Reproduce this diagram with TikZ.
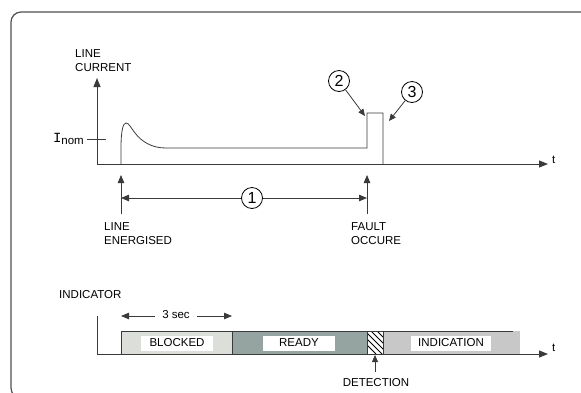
\documentclass[tikz,border=0pt]{standalone}
\usepackage{fontspec}
\setmainfont{Liberation Sans}
\newfontfamily\inomfont{Liberation Mono}
\usetikzlibrary{arrows.meta, positioning, calc}
\definecolor{fdframe}{HTML}{505050}
\definecolor{fdline}{HTML}{3A3A3A}
\definecolor{fdblock}{HTML}{DCDED9}
\definecolor{fdready}{HTML}{95A4A1}
\definecolor{fdind}{HTML}{C8C8C8}

\begin{document}
\begin{tikzpicture}[x=1pt, y=-1pt, font=\fontsize{11.5}{14}\selectfont,
      axis/.style={draw=fdline, line width=0.9pt, -{Triangle[length=9pt, width=7pt]}},
      ptr/.style={draw=fdline, line width=0.8pt, -{Triangle[length=8pt, width=6.5pt]}},
      lbl/.style={inner sep=0pt, align=left, text=black},
      num/.style={circle, draw=black, line width=0.8pt, minimum size=21pt, inner sep=0pt, fill=white,
                  font=\fontsize{16}{16}\selectfont},
      bartxt/.style={fill=white, inner sep=0pt, minimum height=15pt, font=\fontsize{11.5}{12}\selectfont}]
      \useasboundingbox (0,0) rectangle (581,392);
      \begin{scope}
        \clip (0,0) rectangle (581,392);
        \draw[fdframe, line width=1.2pt, rounded corners=10pt] (11,12) rectangle (620,398);
      \end{scope}

      % line current
      \coordinate (o1) at (97,164);
      \coordinate (ytop) at (97,78);
      \coordinate (x1end) at (548,164);
      \draw[axis] (o1) -- (ytop);
      \draw[axis] (o1) -- (x1end);
      \node[lbl, anchor=west] (t1) at (552,160) {t};
      \node[lbl, anchor=north west] (curlbl) at (75,49) {LINE\\CURRENT};
      \coordinate (tickl) at (87,139);
      \coordinate (tickr) at (106,139);
      \draw[fdline, line width=0.8pt] (tickl) -- (tickr);
      \node[lbl, anchor=east] (inom) at (84,139) {{\inomfont\fontsize{14}{14}\selectfont I}\raisebox{-2.5pt}{nom}};

      \coordinate (ener) at (121,164);
      \coordinate (fault) at (367,164);
      \draw[fdline, line width=0.8pt] (ener) -- (121,148)
        .. controls (121,131) and (123,123) .. (126,123)
        .. controls (129,123) and (131,128) .. (135,133)
        .. controls (142,142) and (152,148) .. (166,148)
        -- (367,148) -- (367,113) -- (383,113) -- (383,164);

      \node[num] (n2) at (339,81) {2};
      \node[num] (n3) at (412,92) {3};
      \coordinate (p2) at (365,116);
      \coordinate (p3) at (389,121);
      \draw[ptr, -{Triangle[length=7pt, width=6pt]}] (n2) -- (p2);
      \draw[ptr, -{Triangle[length=7pt, width=6pt]}] (n3) -- (p3);

      % events
      \coordinate (eb) at (121,214);
      \coordinate (et) at (121,175);
      \coordinate (fb) at (367,214);
      \coordinate (ft) at (367,175);
      \draw[ptr] (eb) -- (et);
      \draw[ptr] (fb) -- (ft);
      \node[num] (n1) at (252,198) {1};
      \coordinate (dl) at (121,198);
      \coordinate (dr) at (367,198);
      \draw[ptr] (n1) -- (dl);
      \draw[ptr] (n1) -- (dr);
      \node[lbl, anchor=north west] (enlbl) at (104,222) {LINE\\ENERGISED};
      \node[lbl, anchor=north west] (fllbl) at (351,222) {FAULT\\OCCURE};

      % indicator
      \node[lbl, anchor=west] (indlbl) at (59,295) {INDICATOR};
      \coordinate (o2) at (97,354);
      \coordinate (ybot) at (97,316);
      \coordinate (x2end) at (548,354);
      \fill[fdblock] (121,331) rectangle (232,354);
      \fill[fdready] (232,331) rectangle (367,354);
      \fill[white] (367,331) rectangle (383,354);
      \fill[fdind] (383,331) rectangle (520,354);
      \begin{scope}
        \clip (367,331) rectangle (383,354);
        \foreach \k in {0,...,7}
          \draw[black, line width=0.9pt] (353+\k*6,331) -- ++(23,23);
      \end{scope}
      \draw[fdline, line width=0.9pt] (121,354) -- (121,331) -- (513,331);
      \draw[fdline, line width=0.9pt] (232,331) -- (232,354);
      \draw[fdline, line width=0.9pt] (367,331) -- (367,354);
      \draw[fdline, line width=0.9pt] (383,331) -- (383,354);
      \draw[fdline, line width=0.9pt] (ybot) -- (o2);
      \draw[axis] (o2) -- (x2end);
      \node[lbl, anchor=west] (t2) at (552,348) {t};

      \node[bartxt, minimum width=72pt] (blk) at (177,343) {BLOCKED};
      \node[bartxt, minimum width=72pt] (rdy) at (299,343) {READY};
      \node[bartxt, minimum width=80pt] (ind) at (451,343) {INDICATION};

      \node[lbl] (sec) at (176,315) {3 sec};
      \coordinate (sl) at (121,316);
      \coordinate (sr) at (232,316);
      \draw[ptr] ($(sec.west)+(-7,1)$) -- (sl);
      \draw[ptr] ($(sec.east)+(7,1)$) -- (sr);

      \coordinate (db) at (375,372);
      \coordinate (dt) at (375,355);
      \draw[ptr, -{Triangle[length=7pt, width=6pt]}] (db) -- (dt);
      \node[lbl, anchor=north] (detlbl) at (376,378) {DETECTION};
\end{tikzpicture}
\end{document}
